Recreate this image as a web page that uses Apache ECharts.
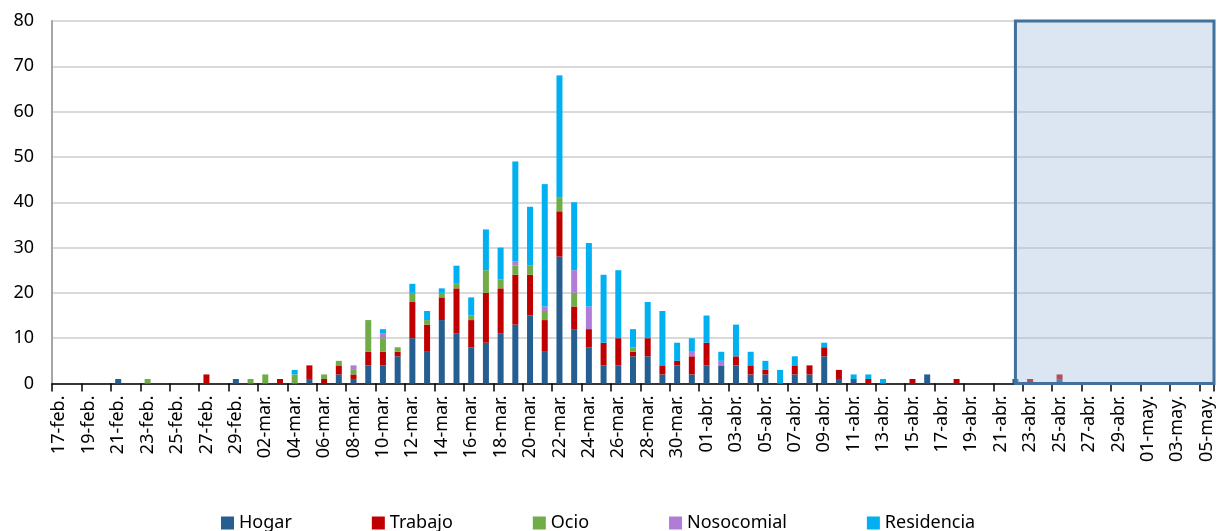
<!DOCTYPE html>
<html>
<head>
<meta charset="utf-8">
<script src="https://cdn.jsdelivr.net/npm/echarts@6/dist/echarts.min.js"></script>
<style>html,body{margin:0;padding:0;background:#fff}#c{width:1219px;height:531px}</style>
</head>
<body>
<div id="c"></div>
<script>
const categories = [
 '17-feb.','18-feb.','19-feb.','20-feb.','21-feb.','22-feb.','23-feb.','24-feb.','25-feb.','26-feb.',
 '27-feb.','28-feb.','29-feb.','01-mar.','02-mar.','03-mar.','04-mar.','05-mar.','06-mar.','07-mar.',
 '08-mar.','09-mar.','10-mar.','11-mar.','12-mar.','13-mar.','14-mar.','15-mar.','16-mar.','17-mar.',
 '18-mar.','19-mar.','20-mar.','21-mar.','22-mar.','23-mar.','24-mar.','25-mar.','26-mar.','27-mar.',
 '28-mar.','29-mar.','30-mar.','31-mar.','01-abr.','02-abr.','03-abr.','04-abr.','05-abr.','06-abr.',
 '07-abr.','08-abr.','09-abr.','10-abr.','11-abr.','12-abr.','13-abr.','14-abr.','15-abr.','16-abr.',
 '17-abr.','18-abr.','19-abr.','20-abr.','21-abr.','22-abr.','23-abr.','24-abr.','25-abr.','26-abr.',
 '27-abr.','28-abr.','29-abr.','30-abr.','01-may.','02-may.','03-may.','04-may.','05-may.'
];
const hogar = [
 0,0,0,0,1,0,0,0,0,0,
 0,0,1,0,0,0,0,1,0,2,
 1,4,4,6,10,7,14,11,8,9,
 11,13,15,7,28,12,8,4,4,6,
 6,2,4,2,4,4,4,2,2,0,
 2,2,6,1,1,0,0,0,0,2,
 0,0,0,0,0,1,0,0,1,0,
 0,0,0,0,0,0,0,0,0
];
const trabajo = [
 0,0,0,0,0,0,0,0,0,0,
 2,0,0,0,0,1,0,3,1,2,
 1,3,3,1,8,6,5,10,6,11,
 10,11,9,7,10,5,4,5,6,1,
 4,2,1,4,5,0,2,2,1,0,
 2,2,2,2,0,1,0,0,1,0,
 0,1,0,0,0,0,1,0,1,0,
 0,0,0,0,0,0,0,0,0
];
const ocio = [
 0,0,0,0,0,0,1,0,0,0,
 0,0,0,1,2,0,2,0,1,1,
 1,7,3,1,2,1,1,1,1,5,
 2,2,2,2,3,3,0,0,0,1,
 0,0,0,0,0,0,0,0,0,0,
 0,0,0,0,0,0,0,0,0,0,
 0,0,0,0,0,0,0,0,0,0,
 0,0,0,0,0,0,0,0,0
];
const nosocomial = [
 0,0,0,0,0,0,0,0,0,0,
 0,0,0,0,0,0,0,0,0,0,
 1,0,1,0,0,0,0,0,0,0,
 0,1,0,1,0,5,5,0,0,0,
 0,0,0,1,0,1,0,0,0,0,
 0,0,0,0,0,0,0,0,0,0,
 0,0,0,0,0,0,0,0,0,0,
 0,0,0,0,0,0,0,0,0
];
const residencia = [
 0,0,0,0,0,0,0,0,0,0,
 0,0,0,0,0,0,1,0,0,0,
 0,0,1,0,2,2,1,4,4,9,
 7,22,13,27,27,15,14,15,15,4,
 8,12,4,3,6,2,7,3,2,3,
 2,0,1,0,1,1,1,0,0,0,
 0,0,0,0,0,0,0,0,0,0,
 0,0,0,0,0,0,0,0,0
];
const seriesNames = ['Hogar','Trabajo','Ocio','Nosocomial','Residencia'];
const seriesColors = ['#255E91','#C00000','#70AD47','#B07CD8','#00B0F0'];
const seriesData = [hogar, trabajo, ocio, nosocomial, residencia];
const boxStart = '22-abr.';
const yTicks = {min: 0, max: 80, interval: 10};

const FONT = 'Noto Sans';
const chart = echarts.init(document.getElementById('c'));
const series = seriesData.map((d, i) => ({
  name: seriesNames[i], type: 'bar', stack: 'total', data: d,
  barWidth: 6, itemStyle: {color: seriesColors[i]}, emphasis: {disabled: true}
}));
series.push({
  name: 'box', type: 'line', data: [], z: 10, silent: true,
  markArea: {
    silent: true, z: 10,
    itemStyle: {color: 'rgba(168,193,222,0.4)', borderColor: '#41719C', borderWidth: 3},
    data: [[{xAxis: boxStart, yAxis: yTicks.max}, {xAxis: Infinity, yAxis: yTicks.min}]]
  }
});
chart.setOption({
  animation: false,
  textStyle: {fontFamily: FONT},
  grid: {left: 52, right: 5, top: 21, bottom: 147.5, containLabel: false},
  legend: {
    data: seriesNames, left: 216, top: 509, icon: 'rect', itemWidth: 13, itemHeight: 13,
    itemGap: 80, textStyle: {fontSize: 18, color: '#000', fontFamily: FONT}
  },
  xAxis: {
    type: 'category', data: categories, boundaryGap: true,
    axisLine: {lineStyle: {color: '#000', width: 1.5}},
    axisTick: {show: true, interval: 1, length: 8, lineStyle: {color: '#000', width: 1.5}},
    axisLabel: {interval: 1, rotate: 90, fontSize: 18, color: '#000', margin: 12, fontFamily: FONT}
  },
  yAxis: {
    type: 'value', min: yTicks.min, max: yTicks.max, interval: yTicks.interval,
    axisLine: {show: true, lineStyle: {color: '#A6A6A6', width: 2}},
    axisTick: {show: false},
    axisLabel: {fontSize: 18, color: '#000', margin: 18, fontFamily: FONT},
    splitLine: {lineStyle: {color: '#D9D9D9', width: 2}}
  },
  series: series
});
</script>
</body>
</html>
